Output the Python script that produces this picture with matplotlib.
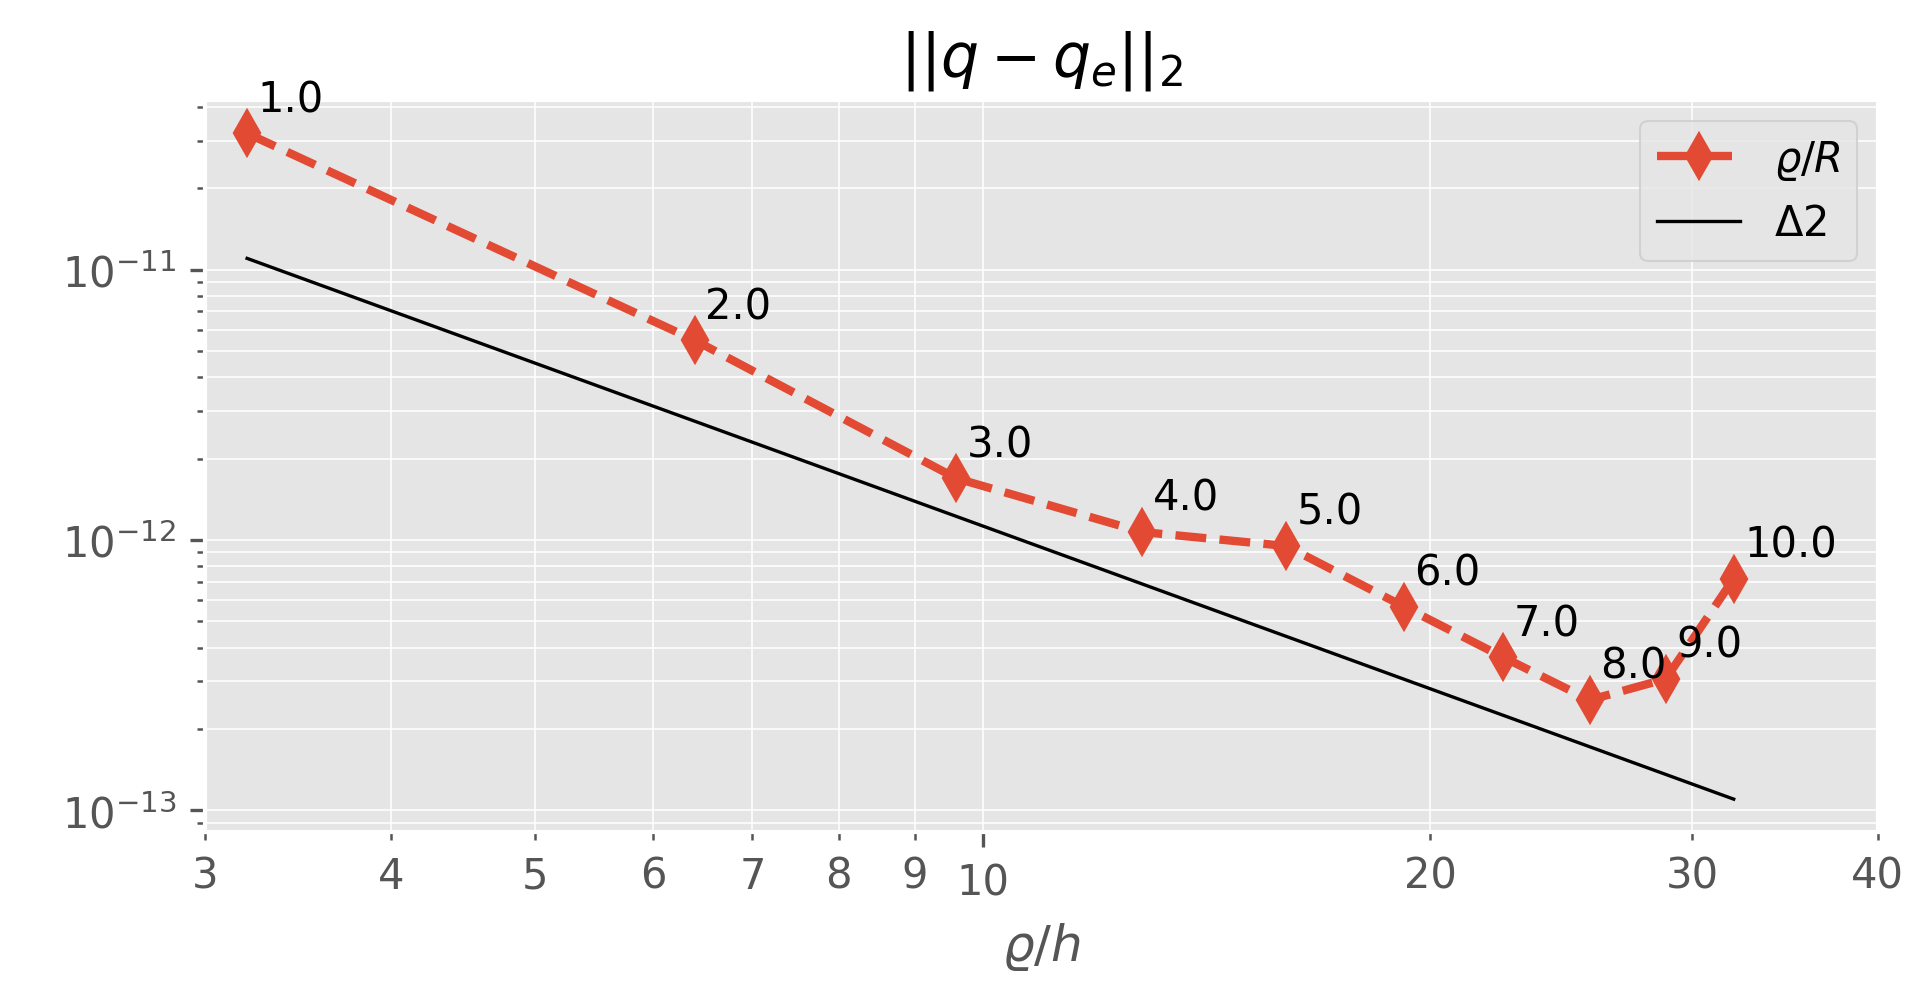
"""
Convergence plot: L2 error of q against the exact solution vs. rho/h,
with a second-order reference slope.
"""

import matplotlib
matplotlib.use("Agg")
import matplotlib.pyplot as plt
from matplotlib.ticker import FormatStrFormatter

# rho/R value of each run (used as point labels)
RHO_R = [1.0, 2.0, 3.0, 4.0, 5.0, 6.0, 7.0, 8.0, 9.0, 10.0]
# rho/h of each run
RHO_H = [3.2, 6.4, 9.6, 12.8, 16.0, 19.2, 22.4, 25.6, 28.8, 32.0]
# ||q - q_e||_2
ERR = [3.19e-11, 5.48e-12, 1.69e-12, 1.07e-12, 9.5e-13,
       5.67e-13, 3.68e-13, 2.56e-13, 3.06e-13, 7.19e-13]

# second-order reference line (end points)
REF_X = [3.2, 32.0]
REF_Y = [1.1e-11, 1.1e-13]

X_TICKS = [3, 4, 5, 6, 7, 8, 9, 20, 30, 40]


def main():
    plt.style.use("ggplot")
    plt.rcParams["font.size"] = 10

    fig, ax = plt.subplots(figsize=(6.4, 3.3033), dpi=300)
    fig.subplots_adjust(left=0.107, right=0.978, top=0.898, bottom=0.159)

    ax.loglog(RHO_H, ERR, "d--", color="#E24A33", lw=2, ms=7,
              label=r"$\varrho/R$")
    ax.loglog(REF_X, REF_Y, "-", color="k", lw=0.8, label=r"$\Delta 2$")

    for xv, yv, lab in zip(RHO_H, ERR, RHO_R):
        ax.annotate(f"{lab:.1f}", (xv, yv), xytext=(2.5, 5.3),
                    textcoords="offset points", fontsize=10, color="k")

    ax.set_xlim(3, 40)
    ax.xaxis.set_minor_locator(matplotlib.ticker.FixedLocator(X_TICKS))
    ax.xaxis.set_major_formatter(FormatStrFormatter("%g"))
    ax.xaxis.set_minor_formatter(FormatStrFormatter("%g"))
    ax.tick_params(axis="x", which="minor", labelsize=10, labelcolor="#555555")
    ax.tick_params(axis="x", which="major", labelsize=10)

    ax.grid(True, which="both", color="white", lw=0.5, alpha=0.8)
    ax.set_title(r"$||q-q_e||_2$")
    ax.set_xlabel(r"$\varrho/h$")
    ax.legend(loc="upper right")

    fig.savefig("out.png", dpi=300)
    plt.close(fig)


if __name__ == "__main__":
    main()
